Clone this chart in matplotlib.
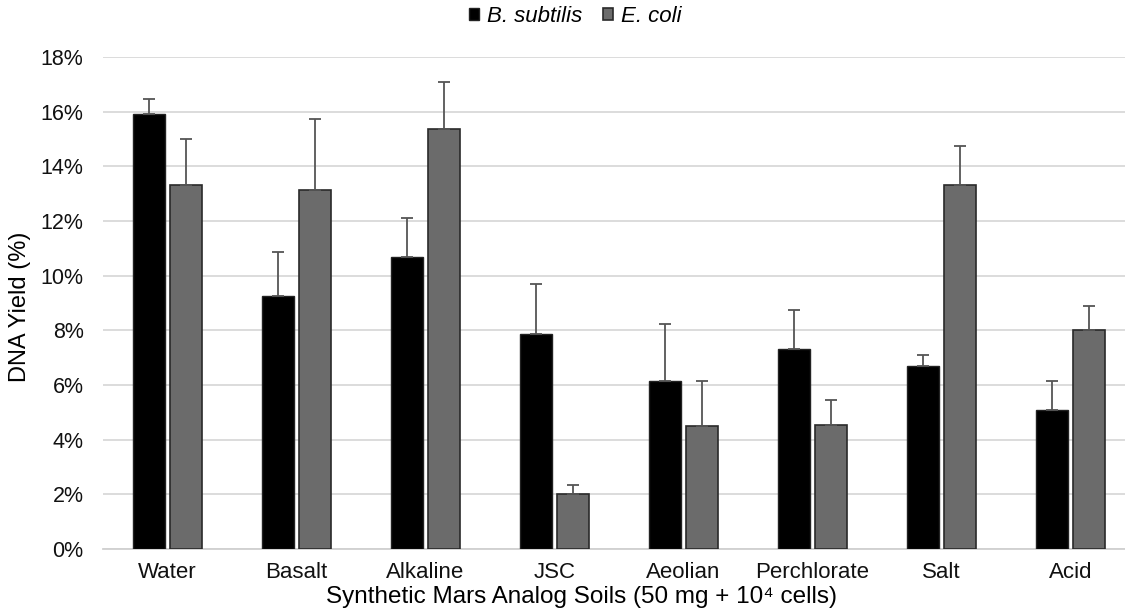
import matplotlib
matplotlib.use("Agg")
import matplotlib.pyplot as plt
import numpy as np
from matplotlib.ticker import FuncFormatter

plt.rcParams['font.family'] = ['Liberation Sans', 'DejaVu Sans']

soils = ['Water', 'Basalt', 'Alkaline', 'JSC', 'Aeolian', 'Perchlorate', 'Salt', 'Acid']
b_subtilis = [15.9, 9.25, 10.7, 7.85, 6.15, 7.3, 6.7, 5.1]
b_subtilis_err = [0.55, 1.6, 1.4, 1.85, 2.1, 1.45, 0.4, 1.05]
e_coli = [13.3, 13.15, 15.35, 2.0, 4.5, 4.55, 13.3, 8.0]
e_coli_err = [1.7, 2.6, 1.75, 0.35, 1.65, 0.9, 1.45, 0.9]

fig = plt.figure(figsize=(11.25, 6.14), dpi=100)
# plot area runs a bit past the right edge of the picture (cropped original)
ax = fig.add_axes([103 / 1125, 1 - 549 / 614, 1032 / 1125, 492 / 614])

x = np.arange(len(soils))
w = 0.245
off = 0.143
err_style = dict(ecolor='#555555', elinewidth=1.3, capsize=4.5, capthick=1.3)

ax.bar(x - off, b_subtilis, w, color='black', edgecolor='#222222', linewidth=1,
       yerr=[np.zeros(len(soils)), b_subtilis_err], error_kw=err_style,
       label='B. subtilis', zorder=3)
ax.bar(x + off, e_coli, w, color='#6b6b6b', edgecolor='#2a2a2a', linewidth=1.2,
       yerr=[np.zeros(len(soils)), e_coli_err], error_kw=err_style,
       label='E. coli', zorder=3)

ax.set_xlim(-0.5, len(soils) - 0.5)
ax.set_ylim(0, 18)
ax.set_yticks(np.arange(0, 19, 2))
ax.yaxis.set_major_formatter(FuncFormatter(lambda v, p: f'{v:.0f}%'))
ax.set_xticks(x)
ax.set_xticklabels(soils)
ax.tick_params(axis='y', length=0, labelsize=15.5, pad=14, colors='#111111')
ax.tick_params(axis='x', length=0, labelsize=16, pad=9, colors='#111111')
ax.grid(axis='y', color='#d9d9d9', linewidth=1.3, zorder=0)
for s in ['top', 'right', 'left']:
    ax.spines[s].set_visible(False)
ax.spines['bottom'].set_color('#d0d0d0')
ax.spines['bottom'].set_linewidth(1.3)

ax.set_ylabel('DNA Yield (%)', fontsize=17, va='center')
ax.yaxis.set_label_coords(20 / 1125, 0.5, transform=fig.transFigure)
ax.set_xlabel('Synthetic Mars Analog Soils (50 mg + 10\u2074 cells)', fontsize=17.5, va='center')
ax.xaxis.set_label_coords(581 / 1125, 1 - 597 / 614, transform=fig.transFigure)

leg = ax.legend(loc='center', bbox_to_anchor=(575 / 1125, 1 - 16 / 614),
                bbox_transform=fig.transFigure, ncol=2, frameon=False,
                fontsize=16, handlelength=0.45, handleheight=0.45, handletextpad=0.35,
                columnspacing=0.95)
for t in leg.get_texts():
    t.set_fontstyle('italic')

fig.savefig('out.png', dpi=100)
